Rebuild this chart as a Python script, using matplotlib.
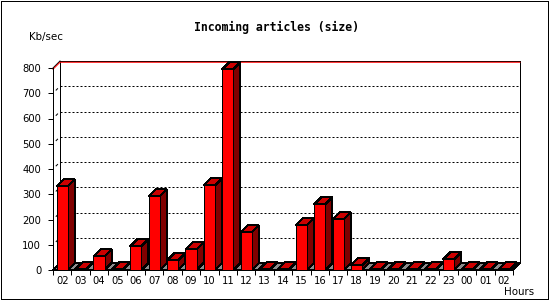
import matplotlib
matplotlib.use("Agg")
import matplotlib.pyplot as plt
from matplotlib.patches import Polygon, Rectangle

# Hourly incoming article volume (Kb/sec)
hours = ['02', '03', '04', '05', '06', '07', '08', '09', '10', '11', '12', '13',
         '14', '15', '16', '17', '18', '19', '20', '21', '22', '23', '00', '01', '02']
kbps = [331, 2, 54, 2, 94, 292, 38, 82, 335, 795, 149, 2,
        2, 177, 260, 201, 19, 2, 2, 2, 2, 42, 2, 2, 2]
yticks = [0, 100, 200, 300, 400, 500, 600, 700, 800]
ymax = 800

W, H = 550, 300
left_px, right_px = 53, 513
base_px, top_px = 270, 68
depth_px = 7

plt.rcParams['patch.antialiased'] = False

fig = plt.figure(figsize=(W / 100, H / 100), dpi=100)
ax = fig.add_axes([left_px / W, (H - base_px) / H,
                   (right_px - left_px) / W, (base_px - top_px) / H])
n = len(hours)
ax.set_xlim(0, n)
ax.set_ylim(0, ymax)
ax.patch.set_visible(False)

# depth offset expressed in data units
dx = depth_px * n / (right_px - left_px)
dy = depth_px * ymax / (base_px - top_px)
lw = 0.72  # one pixel

# back wall
ax.add_patch(Rectangle((dx, dy), n, ymax, facecolor='white', edgecolor='black',
                       lw=lw, clip_on=False, zorder=1))
for v in yticks[1:-1]:
    ax.plot([dx, n + dx], [v + dy, v + dy], color='black', lw=lw,
            linestyle=(0, (2, 2)), clip_on=False, zorder=2)
    ax.plot([dx * 0.45, dx * 0.65], [v + dy * 0.45, v + dy * 0.65], color='black',
            lw=lw, clip_on=False, zorder=2)
# left depth edge
ax.plot([0, dx], [ymax, ymax + dy], color='black', lw=lw, clip_on=False, zorder=2)
# red line at the maximum
red_v = ymax - 5
ax.plot([0, dx, n + dx], [red_v, red_v + dy, red_v + dy], color='#ff0000', lw=lw,
        clip_on=False, zorder=2)

# floor
ax.add_patch(Polygon([(0, 0), (n, 0), (n + dx, dy), (dx, dy)], closed=True,
                     facecolor='#8c8c8c', edgecolor='black', lw=lw, clip_on=False, zorder=3))

# 3D bars
bw = 0.6
for i, v in enumerate(kbps):
    x0 = i + 0.2
    x1 = x0 + bw
    ax.add_patch(Polygon([(x1, 0), (x1 + dx, dy), (x1 + dx, v + dy), (x1, v)],
                         closed=True, facecolor='#800000', edgecolor='black', lw=lw,
                         clip_on=False, zorder=4))
    ax.add_patch(Polygon([(x0, v), (x1, v), (x1 + dx, v + dy), (x0 + dx, v + dy)],
                         closed=True, facecolor='#cc0000', edgecolor='black', lw=lw,
                         clip_on=False, zorder=4))
    ax.add_patch(Rectangle((x0, 0), bw, v, facecolor='#ff0000', edgecolor='black',
                           lw=lw, clip_on=False, zorder=4))

# front axes
for s in ['top', 'right']:
    ax.spines[s].set_visible(False)
for s in ['left', 'bottom']:
    ax.spines[s].set_linewidth(lw)
    ax.spines[s].set_zorder(5)
ax.set_yticks(yticks)
ax.set_yticklabels([str(t) for t in yticks])
ax.set_xticks(range(n + 1))
ax.set_xticklabels([])
ax.set_xticks([i + 0.5 for i in range(n)], minor=True)
ax.set_xticklabels(hours, minor=True)
ax.tick_params(axis='x', which='major', length=3.5, width=lw, direction='out')
ax.tick_params(axis='x', which='minor', length=0, pad=4.5, labelsize=7.2)
ax.tick_params(axis='y', length=3.5, width=lw, direction='out', pad=5, labelsize=7.2)

fig.text(276 / W, 1 - 27 / H, 'Incoming articles (size)', ha='center', va='center',
         family='DejaVu Sans Mono', weight='bold', fontsize=8.3)
fig.text(29 / W, 1 - 37 / H, 'Kb/sec', ha='left', va='center', fontsize=7.4)
fig.text(504 / W, 1 - 292 / H, 'Hours', ha='left', va='center', fontsize=7.4)

# image frame
fig.add_artist(Rectangle((0.5 / W, 1.5 / H), (W - 3) / W, (H - 2.5) / H,
                         transform=fig.transFigure, fill=False, edgecolor='black', lw=lw))

fig.savefig('out.png', dpi=100)
